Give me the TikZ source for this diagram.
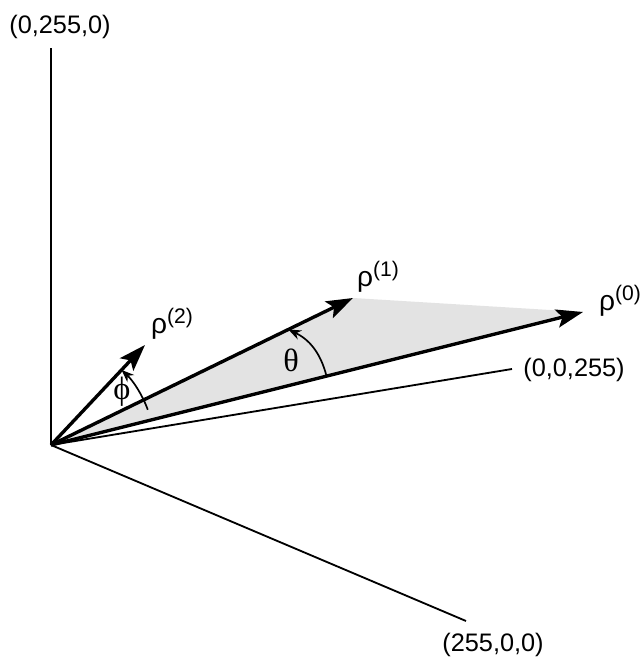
\documentclass[tikz,border=0pt]{standalone}
\usepackage{fontspec}
\setmainfont{Liberation Sans}
\newfontfamily\greekserif{Liberation Serif}
\usetikzlibrary{calc,positioning,arrows.meta}

\newcommand{\rhosup}[1]{ρ\raisebox{0.7ex}{\fontsize{15}{16}\selectfont(#1)}}

\begin{document}
\begin{tikzpicture}[x=0.025cm,y=0.025cm,
    axis/.style={line width=1.3pt},
    vec/.style={line width=2.4pt,-{Stealth[length=19pt,width=13pt,inset=4pt]}},
    angarc/.style={line width=1.2pt,-{Stealth[length=9pt,width=7pt]}},
    lbl/.style={font=\fontsize{18}{20}\selectfont, inner sep=0pt},
    rlbl/.style={font=\fontsize{20}{22}\selectfont, inner sep=0pt},
    angl/.style={font=\greekserif\fontsize{23}{24}\selectfont, inner sep=0pt}]

\useasboundingbox (0,0) rectangle (643,663);

% axes
\coordinate (O) at (51,218);
\coordinate (G) at (51,615);
\coordinate (R) at (466,42);
\coordinate (B) at (512,294);

% vectors
\coordinate (r0) at (583,351);
\coordinate (r1) at (353,365);
\coordinate (r2) at (145,318);

% shaded wedge
\fill[gray!22] (O) -- (r1) -- (r0) -- cycle;

\draw[axis] (O) -- (G);
\draw[axis] (O) -- (R);
\draw[axis] (O) -- (B);

\draw[vec] (O) -- (r0);
\draw[vec] (O) -- (r1);
\draw[vec] (O) -- (r2);

% angles
\draw[angarc] ($(O)+(20:103)$) arc[start angle=20, end angle=46.8, radius=103];
\draw[angarc] ($(O)+(14.04:284)$) to[bend right=25] ($(O)+(25.95:264)$);

% labels
\node[lbl] (lG) at (60,636) {(0,255,0)};
\node[lbl] (lR) at (493,18) {(255,0,0)};
\node[lbl] (lB) at (574,293) {(0,0,255)};
\node[rlbl] (l0) at (620,362) {\rhosup{0}};
\node[rlbl] (l1) at (378,386) {\rhosup{1}};
\node[rlbl] (l2) at (172,339) {\rhosup{2}};
\node[angl] (th) at (291,303) {θ};
\node[angl] (ph) at (122,271) {ϕ};

\end{tikzpicture}
\end{document}
